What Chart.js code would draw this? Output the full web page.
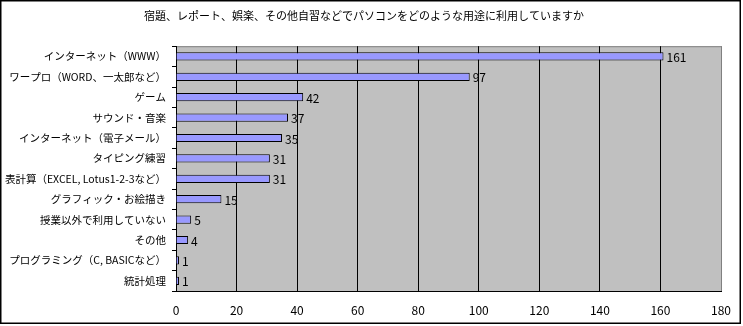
<!DOCTYPE html>
<html>
<head>
<meta charset="utf-8">
<script src="https://cdn.jsdelivr.net/npm/chart.js@4/dist/chart.umd.min.js"></script>
<style>
  body { margin: 0; background: #fff; }
  #wrap { width: 743px; height: 326px; }
</style>
</head>
<body>
<div id="wrap"><canvas id="usageChart" width="743" height="326"></canvas></div>
<script>
const titleText = '宿題、レポート、娯楽、その他自習などでパソコンをどのような用途に利用していますか';
const categories = [
    'インターネット（WWW）',
    'ワープロ（WORD、一太郎など）',
    'ゲーム',
    'サウンド・音楽',
    'インターネット（電子メール）',
    'タイピング練習',
    '表計算（EXCEL, Lotus1-2-3など）',
    'グラフィック・お絵描き',
    '授業以外で利用していない',
    'その他',
    'プログラミング（C, BASICなど）',
    '統計処理'
];
const counts = [161, 97, 42, 37, 35, 31, 31, 15, 5, 4, 1, 1];
const xMax = 180;
const xStep = 20;

const jpFont = '"Noto Sans CJK JP", "Noto Sans", sans-serif';

// grey plot area + outer frame
const backdrop = {
    id: 'backdrop',
    beforeDraw(chart) {
        const { ctx, chartArea: a } = chart;
        ctx.save();
        ctx.fillStyle = '#fff';
        ctx.fillRect(0, 0, chart.width, chart.height);
        ctx.strokeStyle = '#000';
        ctx.lineWidth = 1.5;
        ctx.strokeRect(0.75, 0.75, 739.5, 322.5);
        ctx.fillStyle = '#c0c0c0';
        ctx.fillRect(a.left, a.top, a.right - a.left, a.bottom - a.top);
        ctx.strokeStyle = '#808080';
        ctx.lineWidth = 1;
        ctx.strokeRect(a.left + 0.5, a.top + 0.5, a.right - a.left, a.bottom - a.top);
        ctx.restore();
    }
};

// value labels at the end of each bar
const valueLabels = {
    id: 'valueLabels',
    afterDatasetsDraw(chart) {
        const { ctx } = chart;
        const meta = chart.getDatasetMeta(0);
        ctx.save();
        ctx.font = '12px ' + jpFont;
        ctx.fillStyle = '#000';
        ctx.textAlign = 'left';
        ctx.textBaseline = 'middle';
        meta.data.forEach((bar, i) => {
            ctx.fillText(String(counts[i]), bar.x + 3, bar.y + 1);
        });
        ctx.restore();
    }
};

new Chart(document.getElementById('usageChart'), {
    type: 'bar',
    data: {
        labels: categories,
        datasets: [{
            data: counts,
            backgroundColor: '#9999ff',
            borderColor: '#000',
            borderWidth: 1,
            barPercentage: 0.4,
            categoryPercentage: 1
        }]
    },
    options: {
        indexAxis: 'y',
        responsive: false,
        animation: false,
        devicePixelRatio: 1,
        layout: { padding: { top: 0, right: 15, bottom: 0, left: 0 } },
        plugins: {
            legend: { display: false },
            tooltip: { enabled: false },
            title: {
                display: true,
                text: titleText,
                color: '#000',
                font: { family: jpFont, size: 11, weight: 'normal' },
                padding: { top: 9, bottom: 24 }
            }
        },
        scales: {
            x: {
                min: 0,
                max: xMax,
                ticks: {
                    stepSize: xStep,
                    color: '#000',
                    padding: 12,
                    font: { family: jpFont, size: 12 }
                },
                grid: {
                    drawTicks: false,
                    color: c => (c.tick && c.tick.value === xMax) ? '#808080' : '#000',
                    lineWidth: 1
                },
                border: { color: '#000', width: 1 },
                afterFit(scale) { scale.height = 35; }
            },
            y: {
                ticks: {
                    color: '#000',
                    padding: 6,
                    autoSkip: false,
                    font: { family: jpFont, size: 10.5 }
                },
                grid: {
                    offset: true,
                    drawOnChartArea: false,
                    tickLength: 4,
                    color: '#000'
                },
                border: { color: '#000', width: 1 },
                afterFit(scale) { scale.width = 176; }
            }
        }
    },
    plugins: [backdrop, valueLabels]
});
</script>
</body>
</html>
